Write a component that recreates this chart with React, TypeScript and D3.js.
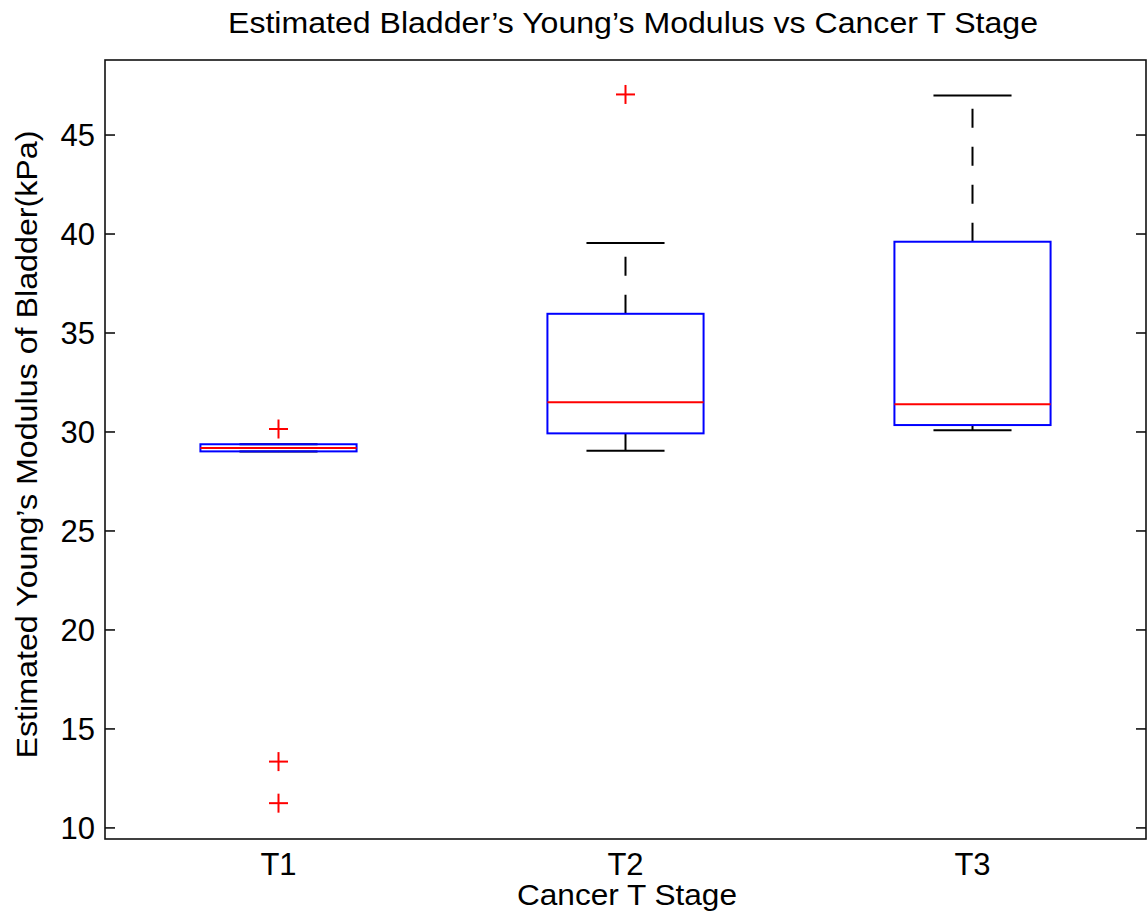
import React from 'react';
import * as d3 from 'd3';

// box statistics
const stages = ['T1', 'T2', 'T3'];
const q1 = [29.02, 29.93, 30.35];
const medians = [29.19, 31.5, 31.4];
const q3 = [29.38, 35.97, 39.61];
const whiskerLow = [29.02, 29.05, 30.09];
const whiskerHigh = [29.38, 39.55, 47.0];
const outliers = [[30.15, 13.35, 11.25], [47.05], []];
const yTicks = [10, 15, 20, 25, 30, 35, 40, 45];

const W = 1147;
const H = 921;
const left = 105, right = 1146, top = 60, bottom = 839;
const FONT = '"Liberation Sans", Arial, Helvetica, sans-serif';

export default function App() {
    const x = d3.scaleLinear().domain([0.5, 3.5]).range([left, right]);
    const y = d3.scaleLinear().domain([9.44, 48.79]).range([bottom, top]);
    const halfBox = (x(1.45) - x(1)) / 2;
    const halfCap = halfBox / 2;
    const axisColor = '#111';

    return (
        <svg width={W} height={H} style={{ position: 'absolute', left: 0, top: 0, background: '#fff' }}
            fontFamily={FONT}>
            <rect x={0} y={0} width={W} height={H} fill="#fff" />

            {/* boxes */}
            {stages.map((s, i) => {
                const cx = x(i + 1);
                return (
                    <g key={s}>
                        {/* whiskers */}
                        <line x1={cx} x2={cx} y1={y(q3[i])} y2={y(whiskerHigh[i])} stroke="#000" strokeWidth={2}
                            strokeDasharray="19 19" />
                        <line x1={cx} x2={cx} y1={y(q1[i])} y2={y(whiskerLow[i])} stroke="#000" strokeWidth={2}
                            strokeDasharray="19 19" />
                        <line x1={cx - halfCap} x2={cx + halfCap} y1={y(whiskerHigh[i])} y2={y(whiskerHigh[i])}
                            stroke="#000" strokeWidth={2} />
                        <line x1={cx - halfCap} x2={cx + halfCap} y1={y(whiskerLow[i])} y2={y(whiskerLow[i])}
                            stroke="#000" strokeWidth={2} />
                        <rect x={cx - halfBox} y={y(q3[i])} width={halfBox * 2} height={y(q1[i]) - y(q3[i])}
                            fill="none" stroke="#0000ff" strokeWidth={2} />
                        <line x1={cx - halfBox} x2={cx + halfBox} y1={y(medians[i])} y2={y(medians[i])}
                            stroke="#ff0000" strokeWidth={2} />
                        {outliers[i].map((v, j) => (
                            <g key={j} stroke="#ff0000" strokeWidth={2}>
                                <line x1={cx - 9.5} x2={cx + 9.5} y1={y(v)} y2={y(v)} />
                                <line x1={cx} x2={cx} y1={y(v) - 9.5} y2={y(v) + 9.5} />
                            </g>
                        ))}
                    </g>
                );
            })}

            {/* frame */}
            <rect x={left} y={top} width={right - left} height={bottom - top} fill="none" stroke={axisColor}
                strokeWidth={1.6} />

            {/* y ticks */}
            {yTicks.map((t) => (
                <g key={t}>
                    <line x1={left} x2={left + 10} y1={y(t)} y2={y(t)} stroke={axisColor} strokeWidth={1.6} />
                    <line x1={right - 10} x2={right} y1={y(t)} y2={y(t)} stroke={axisColor} strokeWidth={1.6} />
                    <text x={95} y={y(t) + 11} textAnchor="end" fontSize={31}>{t}</text>
                </g>
            ))}

            {/* x tick labels */}
            {stages.map((s, i) => (
                <text key={s} x={x(i + 1)} y={875} textAnchor="middle" fontSize={31}>{s}</text>
            ))}

            <text x={633} y={33} textAnchor="middle" fontSize={30} textLength={810}
                lengthAdjust="spacingAndGlyphs">Estimated Bladder’s Young’s Modulus vs Cancer T Stage</text>
            <text x={627} y={905} textAnchor="middle" fontSize={30} textLength={220}
                lengthAdjust="spacingAndGlyphs">Cancer T Stage</text>
            <text transform={`translate(37, ${(top + bottom) / 2 - 5}) rotate(-90)`} textAnchor="middle"
                fontSize={30} textLength={628} lengthAdjust="spacingAndGlyphs">
                Estimated Young’s Modulus of Bladder(kPa)
            </text>
        </svg>
    );
}
